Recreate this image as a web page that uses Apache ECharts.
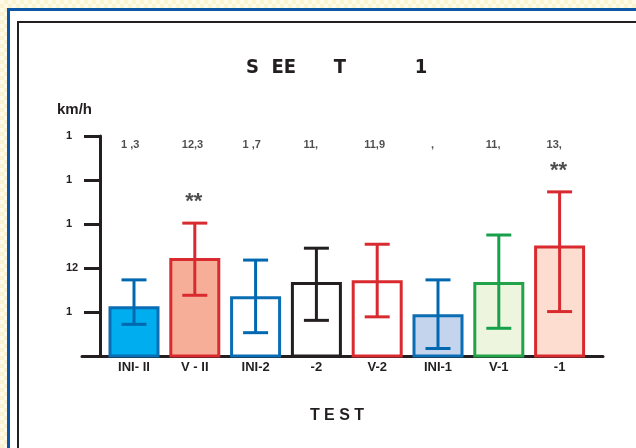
<!DOCTYPE html>
<html>
<head>
<meta charset="utf-8">
<script src="https://cdn.jsdelivr.net/npm/echarts@6/dist/echarts.min.js"></script>
<style>
  html, body { margin: 0; padding: 0; width: 636px; height: 448px; overflow: hidden; }
  body { background: repeating-conic-gradient(#fbf3cf 0 25%, #fffbe8 0 50%) 0 0 / 8px 8px; position: relative; }
  #frame { position: absolute; left: 7px; top: 8px; right: -20px; bottom: -20px; border-left: 3px solid #0d55a5; border-top: 3px solid #0d55a5; background: #fff; }
  #inner { position: absolute; left: 17px; top: 21px; right: -20px; bottom: -20px; border-left: 2px solid #231f20; border-top: 2px solid #231f20; background: #fff; }
  #chart { position: absolute; left: 0; top: 0; width: 636px; height: 448px; }
</style>
</head>
<body>
<div id="frame"></div>
<div id="inner"></div>
<div id="chart"></div>
<script>
const categories = ["INI- II", "V - II", "INI-2", "-2", "V-2", "INI-1", "V-1", "-1"];
const means   = [11.13, 12.23, 11.36, 11.68, 11.72, 10.95, 11.68, 12.51];
const errLow  = [10.72, 11.38, 10.53, 10.81, 10.89, 10.17, 10.63, 11.01];
const errHigh = [11.73, 13.02, 12.18, 12.45, 12.54, 11.73, 12.75, 13.73];
const valueLabels = ["1 ,3", "12,3", "1 ,7", "11,", "11,9", "  ,", "11,", "13,"];
const significance = ["", "**", "", "", "", "", "", "**"];
const yTickValues = [10, 11, 12, 13, 14, 15];
const yTickLabels = ["", "1", "12", "1", "1", "1"];
const fillColors   = ["#00aeef", "#f7ae98", "#ffffff", "#ffffff", "#ffffff", "#c4d4ed", "#eef5df", "#fcddd0"];
const borderColors = ["#0b6db3", "#d92b2f", "#0b6db3", "#231f20", "#d92b2f", "#0b6db3", "#22a34a", "#d92b2f"];
const errColors    = ["#0068b0", "#d92b2f", "#0068b0", "#231f20", "#d92b2f", "#0068b0", "#17a04a", "#d92b2f"];
const titleText = "S  EE      T           1";
const yUnit = "km/h";
const xTitle = "T E S T";

const dark = "#231f20";
const font = "'Liberation Sans', Arial, sans-serif";
const chart = echarts.init(document.getElementById('chart'), null, { renderer: 'canvas' });

chart.setOption({
  animation: false,
  backgroundColor: 'transparent',
  title: [
    { text: titleText, left: 246, top: 58, padding: 0, textStyle: { fontFamily: "'Liberation Sans Narrow', 'DejaVu Sans Condensed', sans-serif", fontWeight: 'bold', fontSize: 20, color: dark } },
    { text: yUnit, left: 57, top: 102, padding: 0, textStyle: { fontFamily: font, fontWeight: 'bold', fontSize: 15, color: dark } },
    { text: xTitle, left: 337, textAlign: 'center', top: 408, padding: 0, textStyle: { fontFamily: font, fontWeight: 'bold', fontSize: 16, color: dark } }
  ],
  grid: [
    { left: 103.6, width: 486.4, top: 136, bottom: 92 },
    { left: 82, right: 33, top: 136, bottom: 92 }
  ],
  xAxis: [
    { type: 'category', gridIndex: 0, data: categories,
      axisLine: { show: false }, axisTick: { show: false },
      axisLabel: { margin: 5, color: dark, fontFamily: font, fontWeight: 'bold', fontSize: 13, interval: 0 } },
    { type: 'value', gridIndex: 1, min: 0, max: 1,
      axisLine: { show: true, lineStyle: { color: dark, width: 3 } },
      axisTick: { show: false }, axisLabel: { show: false }, splitLine: { show: false } }
  ],
  yAxis: [
    { type: 'value', gridIndex: 0, min: yTickValues[0], max: yTickValues[yTickValues.length - 1], interval: 1, offset: 3.6,
      axisLine: { show: true, lineStyle: { color: dark, width: 3 } },
      axisTick: { show: true, length: 16, lineStyle: { color: dark, width: 3 } },
      splitLine: { show: false },
      axisLabel: { margin: 34, align: 'left', padding: [0, 0, 6, 0], color: dark, fontFamily: font, fontWeight: 'bold', fontSize: 11,
        formatter: v => { const i = yTickValues.indexOf(v); return i >= 0 ? yTickLabels[i] : ''; } } },
    { type: 'value', gridIndex: 1, min: 0, max: 1, show: false }
  ],
  series: [
    { type: 'bar', xAxisIndex: 0, yAxisIndex: 0, barWidth: 51,
      data: means.map((v, i) => ({ value: v, itemStyle: { color: fillColors[i], borderColor: borderColors[i], borderWidth: 3 } })) },
    { type: 'custom', xAxisIndex: 0, yAxisIndex: 0, z: 5,
      data: categories.map((c, i) => [i, errLow[i], errHigh[i]]),
      encode: { x: 0, y: [1, 2] },
      renderItem: (params, api) => {
        const lo = api.coord([api.value(0), api.value(1)]);
        const hi = api.coord([api.value(0), api.value(2)]);
        const hw = 12.5;
        const style = { stroke: errColors[params.dataIndex], lineWidth: 3, fill: null };
        return { type: 'group', children: [
          { type: 'line', shape: { x1: lo[0], y1: lo[1], x2: hi[0], y2: hi[1] }, style },
          { type: 'line', shape: { x1: lo[0] - hw, y1: lo[1], x2: lo[0] + hw, y2: lo[1] }, style },
          { type: 'line', shape: { x1: hi[0] - hw, y1: hi[1], x2: hi[0] + hw, y2: hi[1] }, style }
        ] };
      } },
    { type: 'scatter', xAxisIndex: 0, yAxisIndex: 0, symbolSize: 0, silent: true,
      data: categories.map((c, i) => [i, 14.8]),
      label: { show: true, position: 'inside', align: 'left', offset: [-13, 0], color: dark, fontFamily: font, fontWeight: 'bold', fontSize: 11,
        formatter: p => valueLabels[p.dataIndex] } },
    { type: 'scatter', xAxisIndex: 0, yAxisIndex: 0, symbolSize: 0, silent: true,
      data: errHigh.map((v, i) => [i, v]),
      label: { show: true, position: 'inside', offset: [-1, -21], color: dark, fontFamily: font, fontWeight: 'bold', fontSize: 22,
        formatter: p => significance[p.dataIndex] } }
  ]
});
</script>
</body>
</html>
